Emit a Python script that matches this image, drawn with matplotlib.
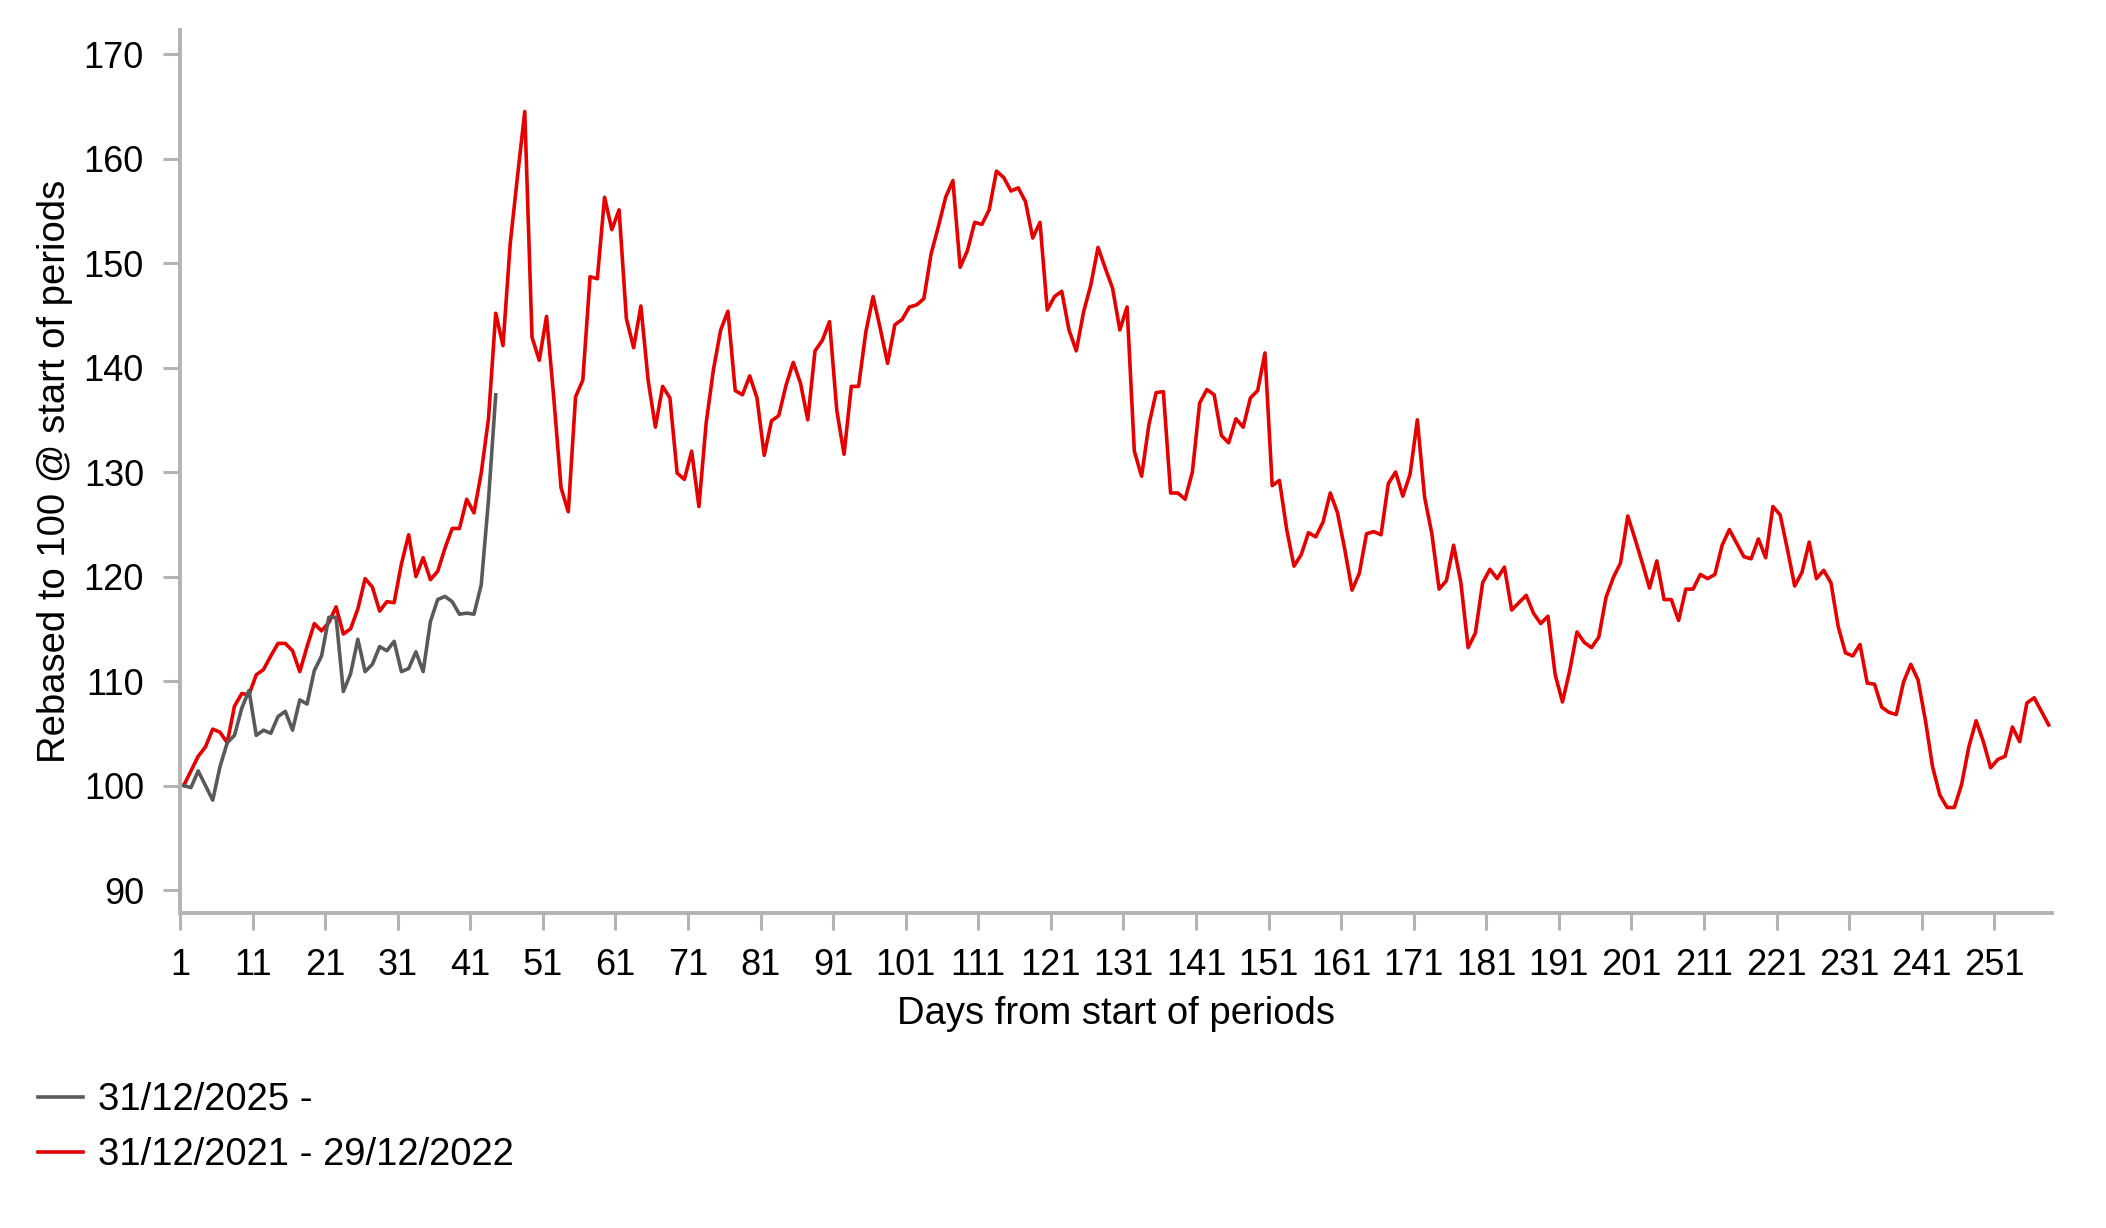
import numpy as np
import matplotlib
matplotlib.use("Agg")
import matplotlib.pyplot as plt

# values, one per trading day
red_2022 = [
    100.0, 101.4, 102.8, 103.7, 105.4, 105.1, 104.1, 107.6, 108.8, 108.7,
    110.6, 111.1, 112.4, 113.6, 113.6, 112.9, 110.9, 113.3, 115.5, 114.8,
    115.6, 117.1, 114.5, 115.0, 116.9, 119.8, 119.0, 116.7, 117.6, 117.5,
    121.2,
    124.0, 120.0, 121.8, 119.7, 120.5, 122.7, 124.6, 124.6, 127.4, 126.1,
    129.9, 135.1, 145.2, 142.1, 151.9, 158.3, 164.5, 142.9, 140.7, 144.9,
    137.1, 128.5, 126.2, 137.2, 138.8, 148.7, 148.5, 156.3, 153.2, 155.1,
    144.7, 141.9, 145.9,
    138.8, 134.3, 138.2, 137.1, 129.9, 129.3, 132.0, 126.7, 134.7, 139.8,
    143.6, 145.4, 137.8, 137.4, 139.2, 137.1, 131.6, 134.9, 135.4, 138.3,
    140.5, 138.5, 135.0, 141.6, 142.6, 144.4, 135.9, 131.7, 138.2, 138.2,
    143.4, 146.8, 143.7,
    140.4, 144.1, 144.6, 145.8, 146.0, 146.6, 150.9, 153.5, 156.3, 157.9,
    149.6, 151.2, 153.9, 153.7, 155.1, 158.8, 158.2, 156.9, 157.2, 155.9,
    152.4, 153.9, 145.5, 146.8, 147.3, 143.6, 141.6, 145.3, 147.9, 151.5,
    149.5, 147.6, 143.6, 145.8,
    132.0, 129.6, 134.5, 137.6, 137.7, 128.0, 128.0, 127.4, 130.0, 136.6,
    137.9, 137.4, 133.5, 132.8, 135.1, 134.3, 137.1, 137.8, 141.4, 128.7,
    129.2, 124.5, 121.0, 122.1, 124.2, 123.8, 125.2, 128.0, 126.1, 122.6,
    118.7, 120.3,
    124.1, 124.3, 124.0, 128.9, 130.0, 127.7, 129.8, 135.0, 127.6, 124.1,
    118.8, 119.6, 123.0, 119.4, 113.2, 114.6, 119.4, 120.7, 119.8, 120.9,
    116.8, 117.5, 118.2, 116.5, 115.5, 116.2, 110.6, 108.0, 111.0, 114.7,
    113.7, 113.2, 114.2,
    118.0, 119.9, 121.3, 125.8, 123.6, 121.3, 118.9, 121.5, 117.8, 117.8,
    115.8, 118.8, 118.8, 120.2, 119.8, 120.2, 123.0, 124.5, 123.2, 121.9,
    121.7, 123.6, 121.8, 126.7, 125.9, 122.6, 119.1, 120.4, 123.3, 119.8,
    120.6, 119.4, 115.2, 112.7, 112.4, 113.5, 109.8, 109.7, 107.5, 107.0,
    106.8, 109.9, 111.6, 110.1, 106.3, 101.8, 99.1, 97.9, 97.9, 100.1,
    103.7, 106.2, 104.2, 101.7, 102.5, 102.8, 105.6, 104.2, 107.9, 108.4,
    107.1, 105.8,
]

gray_2026 = [
    100.0, 99.8, 101.4, 100.0, 98.6, 101.8, 104.1, 104.8, 107.4, 109.1,
    104.8, 105.3, 105.0, 106.6, 107.1, 105.3, 108.2, 107.8, 111.0, 112.4,
    116.1, 116.1, 109.0, 110.7, 114.0, 110.9, 111.6, 113.3, 112.9, 113.8,
    110.9, 111.2, 112.8, 110.9, 115.7, 117.8, 118.1, 117.6, 116.4, 116.5,
    116.4, 119.2, 127.3, 137.4,
]

labels = ["31/12/2025 -", "31/12/2021 - 29/12/2022"]
x_ticks = list(range(1, 252, 10))
y_ticks = list(range(90, 171, 10))

plt.rcParams["font.family"] = ["Liberation Sans", "DejaVu Sans"]
axis_grey = "#b3b3b3"

fig = plt.figure(figsize=(21.06, 12.28), dpi=100)
ax = fig.add_axes([0.0855, 0.2565, 0.889, 0.719])

days_red = np.arange(1, len(red_2022) + 1)
days_gray = np.arange(1, len(gray_2026) + 1)
l_red, = ax.plot(days_red, red_2022, color="#e60000", lw=2.6, label=labels[1])
l_gray, = ax.plot(days_gray, gray_2026, color="#595959", lw=2.6, label=labels[0])

ax.set_xlim(0.5, len(red_2022) + 0.5)
ax.set_ylim(87.8, 172.3)
# tick marks sit at the category boundaries, labels under them
ax.set_xticks([t - 0.5 for t in x_ticks])
ax.set_xticklabels([str(t) for t in x_ticks])
ax.set_yticks(y_ticks)

for s in ["top", "right"]:
    ax.spines[s].set_visible(False)
for s in ["left", "bottom"]:
    ax.spines[s].set_color(axis_grey)
    ax.spines[s].set_linewidth(2.8)
ax.tick_params(axis="x", colors=axis_grey, labelcolor="black", labelsize=26,
               length=12, width=2.2, pad=13)
ax.tick_params(axis="y", colors=axis_grey, labelcolor="black", labelsize=26,
               length=12, width=2.2, pad=14)

fig.text(0.53, 0.174, "Days from start of periods", fontsize=27.5,
         ha="center", va="center")
fig.text(0.026, 0.616, "Rebased to 100 @ start of periods", fontsize=27.5,
         ha="center", va="center", rotation=90)

fig.legend(handles=[l_gray, l_red], loc="upper left", bbox_to_anchor=(0.0106, 0.131),
           frameon=False, fontsize=27.5, handlelength=1.2, handletextpad=0.38,
           labelspacing=0.49, borderaxespad=0)

fig.savefig("out.png", dpi=100)
